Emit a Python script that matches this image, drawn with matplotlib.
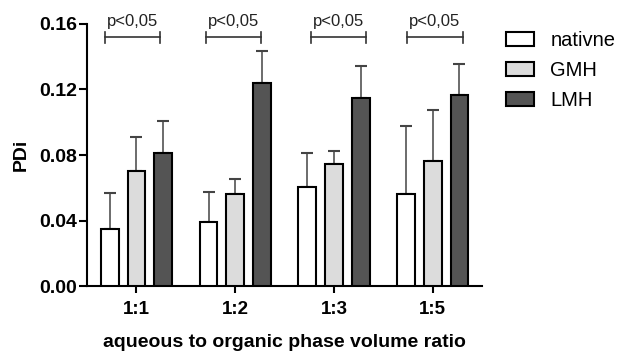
import numpy as np
import matplotlib.pyplot as plt

plt.rcParams['font.family'] = ['Liberation Sans', 'DejaVu Sans']

# data
ratios = ["1:1", "1:2", "1:3", "1:5"]
groups = ["nativne", "GMH", "LMH"]
nativne = [0.035, 0.039, 0.0605, 0.056]
gmh = [0.070, 0.056, 0.0745, 0.0765]
lmh = [0.0814, 0.124, 0.1146, 0.1166]
nativne_err = [0.0216, 0.0184, 0.0209, 0.0419]
gmh_err = [0.0208, 0.0093, 0.0081, 0.031]
lmh_err = [0.0192, 0.0197, 0.0198, 0.019]
sig_text = ["p<0,05", "p<0,05", "p<0,05", "p<0,05"]
sig_left = [-0.32, -0.30, -0.236, -0.26]
sig_right = [0.236, 0.263, 0.328, 0.304]

colors = ["white", "#dcdcdc", "#545454"]

fig = plt.figure(figsize=(6.19, 3.56), dpi=100)
ax = fig.add_axes([0.1406, 0.1966, 0.779 - 0.1406, 0.9326 - 0.1966])

x = np.arange(len(ratios))
offs = [-0.27, 0.0, 0.27]
w = 0.18
vals = [nativne, gmh, lmh]
errs = [nativne_err, gmh_err, lmh_err]
for i in range(3):
    ax.bar(x + offs[i], vals[i], w, color=colors[i], edgecolor="black",
           linewidth=1.5, label=groups[i], zorder=3)
    ax.errorbar(x + offs[i], vals[i], yerr=[np.zeros(4), errs[i]], fmt="none",
                ecolor="#444444", elinewidth=1.1, capsize=4, capthick=1.5, zorder=2)

# significance brackets
yb = 0.1519
for j in range(len(ratios)):
    l = x[j] + sig_left[j]
    r = x[j] + sig_right[j]
    ax.plot([l, r], [yb, yb], color="#333333", lw=1.2, clip_on=False)
    ax.plot([l, l], [yb - 0.0035, yb + 0.0035], color="#333333", lw=1.2, clip_on=False)
    ax.plot([r, r], [yb - 0.0035, yb + 0.0035], color="#333333", lw=1.2, clip_on=False)
    ax.text((l + r) / 2, 0.1618, sig_text[j], ha="center", va="center",
            fontsize=12, color="#222222", clip_on=False)

ax.set_xlim(-0.5, 3.5)
ax.set_ylim(0, 0.16)
ax.set_yticks([0.0, 0.04, 0.08, 0.12, 0.16])
ax.set_yticklabels(["0.00", "0.04", "0.08", "0.12", "0.16"], fontsize=14, fontweight="bold")
ax.set_xticks(x)
ax.set_xticklabels(ratios, fontsize=13.5, fontweight="bold")
ax.tick_params(axis="y", length=6, width=1.5, pad=1)
ax.tick_params(axis="x", length=5, width=1.5, pad=6)
ax.spines["top"].set_visible(False)
ax.spines["right"].set_visible(False)
ax.spines["left"].set_linewidth(1.5)
ax.spines["bottom"].set_linewidth(1.5)

ax.set_ylabel("PDi", fontsize=14, fontweight="bold", labelpad=7)
ax.set_xlabel("aqueous to organic phase volume ratio", fontsize=14,
              fontweight="bold", labelpad=11)

ax.legend(loc="upper left", bbox_to_anchor=(506 / 619, 1 - 31 / 356),
          bbox_transform=fig.transFigure, frameon=False, borderpad=0,
          borderaxespad=0, fontsize=14.5, handlelength=1.4, handleheight=0.65,
          labelspacing=0.55, handletextpad=0.8)

fig.savefig("out.png", dpi=100)
